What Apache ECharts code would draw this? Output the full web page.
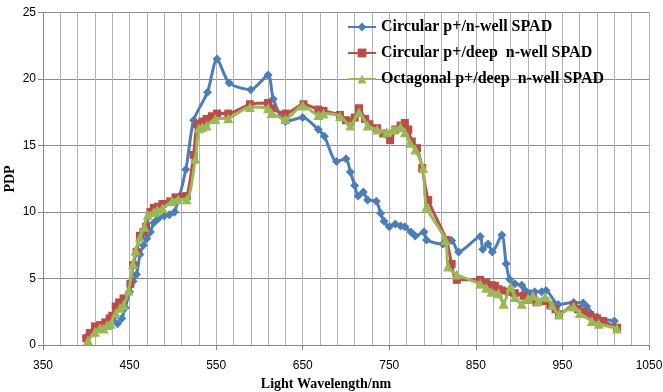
<!DOCTYPE html>
<html><head><meta charset="utf-8">
<script src="https://cdn.jsdelivr.net/npm/echarts@6/dist/echarts.min.js"></script>
<style>html,body{margin:0;padding:0;background:#fff}#c{width:663px;height:392px}</style>
</head><body><div id="c"></div><script>
const X0 = 350;
const xTickLabels = ['350','450','550','650','750','850','950','1050'];
const yTickLabels = ['0','5','10','15','20','25'];
const yAxisTitle = 'PDP';
const xAxisTitle = 'Light Wavelength/nm';
const seriesNames = ['Circular p+/n-well SPAD','Circular p+/deep  n-well SPAD','Octagonal p+/deep  n-well SPAD'];

const blueNm = [400,405,410,415,420,425,430,436,441,445,450,454,458,462,466,470,474,478,483,490,496,502,515,524,540,551,565,590,610,616,630,650,668,675,689,700,705,710,714,720,725,735,740,744,750,757,763,768,775,780,790,793,812,822,830,855,858,864,869,880,885,889,895,903,907,913,918,926,931,945,963,974,978,990,1010];
const blueVal = [0.6,0.8,1.2,1.4,1.6,1.8,2.0,1.6,2.0,2.8,4.0,4.8,5.3,6.8,7.5,8.0,8.5,9.2,9.5,9.7,9.8,10.0,13.2,16.9,19.0,21.5,19.7,19.2,20.3,18.5,16.8,17.1,16.2,15.7,13.8,14.0,13.0,12.0,11.2,11.5,10.9,10.8,9.9,9.3,8.9,9.1,8.95,8.9,8.5,8.2,8.5,7.9,7.6,7.85,7.0,8.15,7.2,7.6,7.0,8.27,6.1,4.94,4.6,4.5,4.1,3.9,4.0,4.0,4.1,3.05,3.2,3.15,2.9,2.1,1.8];

const redNm = [400,404,410,416,422,427,430,434,438,443,451,454,458,462,466,469,474,478,483,488,497,503,510,516,524,528,534,539,545,551,564,589,610,614,630,651,668,674,693,700,705,710,715,722,727,736,743,751,757,763,768,772,776,782,788,795,816,822,828,855,862,868,872,876,880,888,895,905,910,916,920,930,936,942,946,963,968,975,982,990,997,1013];
const redVal = [0.5,0.9,1.4,1.5,1.7,2.0,2.2,2.9,3.2,3.5,4.6,6.0,7.0,8.2,8.5,8.9,10.0,10.3,10.4,10.6,10.8,11.1,11.15,11.2,14.3,16.6,16.8,17.0,17.2,17.4,17.4,18.1,18.2,17.8,17.4,18.1,17.7,17.6,17.3,16.9,16.8,17.1,17.8,17.0,16.6,16.3,15.9,15.4,16.2,16.5,16.7,16.2,15.3,14.8,13.3,10.9,7.9,6.1,4.9,4.9,4.7,4.5,4.45,4.2,4.1,4.0,3.9,3.7,3.4,3.5,3.2,3.3,3.0,2.7,2.3,3.0,2.7,2.5,2.25,2.0,1.8,1.3];

const greenNm = [402,410,416,420,424,428,434,439,443,449,454,457,462,467,471,478,482,488,499,506,516,526,530,534,539,549,564,589,610,614,630,650,668,674,693,705,715,725,736,747,755,763,768,774,780,789,793,815,818,828,855,862,868,876,882,890,895,903,910,916,922,930,938,946,963,970,984,992,1013];
const greenVal = [0.35,1.0,1.3,1.25,1.5,1.6,2.4,2.8,3.0,4.1,6.1,7.1,8.1,8.9,9.8,10.0,10.15,10.3,10.8,10.95,10.95,14.0,16.3,16.4,16.5,17.0,17.05,17.9,17.8,17.45,17.0,18.0,17.3,17.4,17.2,16.5,17.5,16.5,16.2,16.0,16.2,16.4,16.0,15.2,14.7,13.3,10.4,7.9,5.9,5.3,4.6,4.3,4.0,3.9,3.1,4.4,3.6,3.1,3.5,3.7,3.3,3.6,3.0,2.3,2.9,2.4,1.8,1.6,1.25];

function pts(nm, val){ return nm.map((n,i)=>[n - X0, val[i]]); }

const colors = ['#4A7EBB','#BE4B48','#98B954'];
const symbols = ['diamond','rect','triangle'];
const sizes = [9,8,10];
const data = [pts(blueNm,blueVal), pts(redNm,redVal), pts(greenNm,greenVal)];
const serif = '"Liberation Serif","Times New Roman",serif';
const sans = '"Liberation Sans",Arial,sans-serif';

const chart = echarts.init(document.getElementById('c'), null, {renderer:'canvas'});
chart.setOption({
  animation:false,
  backgroundColor:'#fff',
  grid:{left:43, right:14, top:12.5, bottom:47, containLabel:false, outerBoundsMode:'none'},
  legend:{
    orient:'vertical', left:342, top:14, itemWidth:28, itemHeight:11, itemGap:10,
    textStyle:{fontFamily:serif, fontWeight:'bold', fontSize:16, color:'#000'},
    data: seriesNames
  },
  graphic:[{
    type:'text', x:10, y:179, rotation:Math.PI/2,
    style:{text:yAxisTitle, align:'center', verticalAlign:'middle', fontFamily:serif, fontWeight:'bold', fontSize:14, fill:'#000'}
  }],
  xAxis:{
    type:'value', min:0, max:700, interval:100,
    name:xAxisTitle, nameLocation:'middle', nameGap:29,
    nameTextStyle:{fontFamily:serif, fontWeight:'bold', fontSize:14, color:'#000', padding:[0,40,0,0]},
    axisLine:{show:true, lineStyle:{color:'#888', width:1}},
    axisTick:{show:true, length:5, lineStyle:{color:'#888'}},
    axisLabel:{fontFamily:sans, fontSize:12, color:'#000', margin:15, formatter:(v)=>xTickLabels[Math.round(v/100)]},
    splitLine:{show:true, lineStyle:{color:'#b3b3b3', width:1}},
    minorTick:{show:false, splitNumber:5},
    minorSplitLine:{show:true, lineStyle:{color:'#b3b3b3', width:1}}
  },
  yAxis:{
    type:'value', min:0, max:25, interval:5,
    axisLine:{show:true, lineStyle:{color:'#888', width:1}},
    axisTick:{show:true, length:5, lineStyle:{color:'#888'}},
    axisLabel:{fontFamily:sans, fontSize:12, color:'#000', margin:7, formatter:(v)=>yTickLabels[Math.round(v/5)]},
    splitLine:{show:true, lineStyle:{color:'#8c8c8c', width:1}}
  },
  series: seriesNames.map((n,i)=>({
    name:n, type:'line', data:data[i], smooth:0.25,
    symbol:symbols[i], symbolSize:sizes[i], showAllSymbol:true,
    lineStyle:{color:colors[i], width:3},
    itemStyle:{color:colors[i]},
    z:2+i
  }))
});
</script></body></html>
